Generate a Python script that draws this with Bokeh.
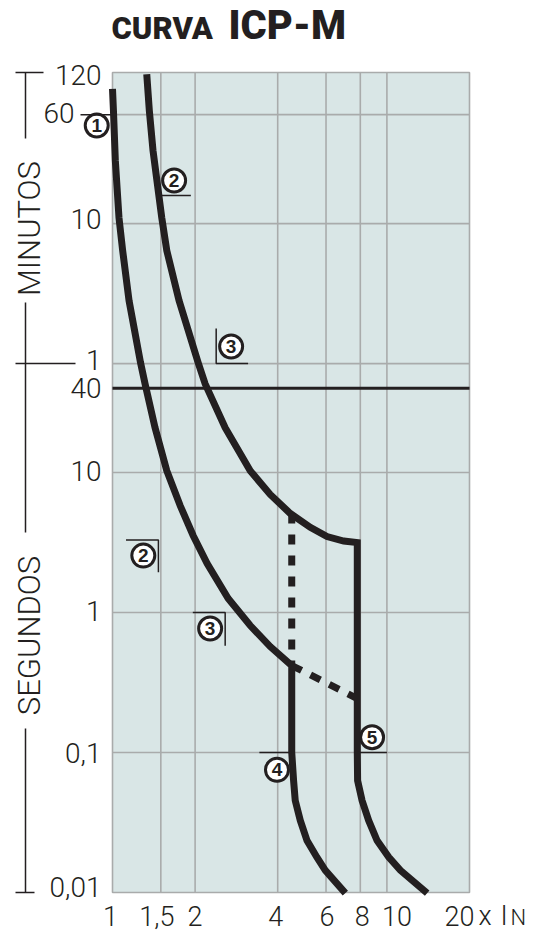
import math
from bokeh.plotting import figure
from bokeh.models import Range1d
from bokeh.core.properties import value
from bokeh.embed import file_html
from bokeh.resources import INLINE

# ---------------- data ----------------
# x: multiples of the rated current (x In), log axis
x_ticks = [1, 1.5, 2, 4, 6, 8, 10, 20]
x_tick_labels = ["1", "1,5", "2", "4", "6", "8", "10", "20"]
# y: tripping time in seconds, log axis (120, 60, 10, 1 are minutes)
y_ticks_s = [7200, 3600, 600, 60, 40, 10, 1, 0.1, 0.01]
y_tick_labels = ["120", "60", "10", "1", "40", "10", "1", "0,1", "0,01"]
y_grid_s = [3600, 600, 60, 10, 1, 0.1]
limit_s = 40

# curve (1): lower limit
curve1_x = [1.0, 1.008, 1.024, 1.056, 1.089, 1.149, 1.265, 1.314, 1.429, 1.577,
            1.764, 1.967, 2.213, 2.64, 3.176, 3.756, 4.5,
            4.5, 4.57, 4.634, 4.834, 5.115, 5.563, 5.964, 7.056]
curve1_t = [5500, 3850, 1694, 660, 385, 169, 61, 43, 20.9, 10.3,
            5.81, 3.55, 2.24, 1.259, 0.807, 0.571, 0.418,
            0.1, 0.063, 0.0454, 0.0327, 0.0235, 0.0178, 0.0144, 0.0099]
# curve (2): upper limit
curve2_x = [1.333, 1.362, 1.405, 1.512, 1.577, 1.748, 2.051, 2.176, 2.574, 3.176,
            3.756, 4.444, 5.257, 6.05, 6.96, 7.8,
            7.8, 7.82, 8.12, 8.58, 9.21, 10.15, 11.2, 14.02]
curve2_t = [7000, 3850, 1990, 660, 385, 169, 61, 43, 20.9, 10.3,
            6.97, 5.1, 4.06, 3.49, 3.24, 3.16,
            0.1, 0.063, 0.0454, 0.0327, 0.0235, 0.0179, 0.0144, 0.0099]
# dotted continuations
dash_v_x = [4.5, 4.5]
dash_v_t = [5.1, 0.418]
dash_d_x = [4.5, 7.8]
dash_d_t = [0.418, 0.243]

# numbered call-outs
marker_x = [0.876, 1.677, 2.706, 1.295, 2.269, 3.976, 8.83]
marker_t = [3010, 1218, 79.4, 2.55, 0.769, 0.0752, 0.1285]
marker_label = ["1", "2", "3", "2", "3", "4", "5"]
# reference brackets next to the call-outs
bracket_xs = [[1.49, 1.93], [2.387, 2.387, 3.12], [1.12, 1.47, 1.47],
              [1.962, 2.574, 2.574], [3.43, 4.5], [7.8, 10.0]]
bracket_ts = [[952, 952], [107, 60, 60], [3.30, 3.30, 1.94],
              [1.0, 1.0, 0.58], [0.1, 0.1], [0.1, 0.1]]

# ---------------- layout ----------------
INK = "#231f20"
GRID = "#a9abab"
BG = "#d9e6e6"
LIGHT = value("Roboto Light")
BOLD = value("Liberation Sans")
HEAVY = value("Roboto Black")

W, H = 538, 932
FL, FR, FT, FB = 112, 469, 72, 892        # pixels of the chart frame in the canvas
dec_x = (FR - FL) / (math.log10(x_ticks[-1]) - math.log10(x_ticks[0]))
dec_y = (FB - FT) / (math.log10(max(y_ticks_s)) - math.log10(min(y_ticks_s)))
x_lo = 10 ** (math.log10(x_ticks[0]) - FL / dec_x)
x_hi = 10 ** (math.log10(x_ticks[-1]) + (W - FR) / dec_x)
y_lo = 10 ** (math.log10(min(y_ticks_s)) - (H - FB) / dec_y)
y_hi = 10 ** (math.log10(max(y_ticks_s)) + FT / dec_y)


def X(px):
    return 10 ** (math.log10(x_lo) + px / dec_x)


def Y(py):
    return 10 ** (math.log10(y_hi) - py / dec_y)


p = figure(width=W, height=H, x_axis_type="log", y_axis_type="log",
           x_range=Range1d(x_lo, x_hi), y_range=Range1d(y_lo, y_hi),
           x_axis_location=None, y_axis_location=None, title=None,
           toolbar_location=None, output_backend="svg", min_border=0,
           outline_line_color=None, background_fill_color="white",
           border_fill_color="white")
p.grid.visible = False

x0, x1 = x_ticks[0], x_ticks[-1]
t0, t1 = min(y_ticks_s), max(y_ticks_s)

# background and grid
p.quad(left=[x0], right=[x1], bottom=[t0], top=[t1], fill_color=BG, line_color=None)
p.segment(x0=x_ticks[1:-1], y0=[t0] * 6, x1=x_ticks[1:-1], y1=[t1] * 6,
          line_color=GRID, line_width=1.6)
p.segment(x0=[x0] * len(y_grid_s), y0=y_grid_s, x1=[x1] * len(y_grid_s), y1=y_grid_s,
          line_color=GRID, line_width=1.6)
p.quad(left=[x0], right=[x1], bottom=[t0], top=[t1], fill_color=None,
       line_color=GRID, line_width=1.6)

# 40 s line
p.segment(x0=[x0], y0=[limit_s], x1=[x1], y1=[limit_s], line_color=INK, line_width=3)

# curves
for cx, ct in ((curve1_x, curve1_t), (curve2_x, curve2_t)):
    p.line(cx, ct, line_color=INK, line_width=7, line_join="miter", line_cap="butt")
p.line(dash_v_x, dash_v_t, line_color=INK, line_width=7, line_dash="10 11", line_cap="butt")
p.line(dash_d_x, dash_d_t, line_color=INK, line_width=7, line_dash="11 10", line_cap="butt")

# brackets and call-outs
p.multi_line(bracket_xs, bracket_ts, line_color=INK, line_width=1.5)
p.scatter(marker_x, marker_t, size=23, fill_color="white", line_color=INK, line_width=3)
p.text(marker_x, marker_t, text=marker_label, text_align="center", text_baseline="middle",
       text_font=BOLD, text_font_style="bold", text_font_size="19px", text_color=INK)

# left scale decoration
p.segment(x0=[X(25)] * 3, x1=[X(25)] * 3, y0=[t1, Y(302), Y(728)], y1=[Y(138), Y(532), t0],
          line_color=INK, line_width=1.5)
p.segment(x0=[X(15)] * 3, x1=[X(43), X(75), X(34)], y0=[t1, 60, t0], y1=[t1, 60, t0],
          line_color=INK, line_width=1.5)
p.segment(x0=[X(80)], x1=[x0], y0=[3600], y1=[3600], line_color=INK, line_width=1.5)
p.text([X(29)], [Y(228)], text=["MINUTOS"], angle=math.pi / 2, text_align="center",
       text_baseline="middle", text_font=LIGHT, text_font_size="31px", text_color=INK)
p.text([X(29)], [Y(635)], text=["SEGUNDOS"], angle=math.pi / 2, text_align="center",
       text_baseline="middle", text_font=LIGHT, text_font_size="31px", text_color=INK)

# y tick labels
y_lab_x = [X(101)] * len(y_ticks_s)
y_lab_x[1] = X(74)
y_off = [2, -2, -5, -4, 0, -2, -2, 0, -6]
p.text(y_lab_x, y_ticks_s, text=y_tick_labels, text_align="right", text_baseline="middle",
       y_offset=y_off, text_font=LIGHT, text_font_size="28px", text_color=INK)

# x tick labels
x_off = [-2, -4, 0, -2, 1, 2, 10, -10]
p.text(x_ticks, [Y(915)] * len(x_ticks), text=x_tick_labels, text_align="center",
       text_baseline="middle", x_offset=x_off, text_font=LIGHT, text_font_size="27px",
       text_color=INK)
p.text([X(478)], [Y(915)], text=["x"], text_align="left", text_baseline="middle",
       text_font=LIGHT, text_font_size="27px", text_color=INK)
p.text([X(500)], [Y(915)], text=["I"], text_align="left", text_baseline="middle",
       text_font=LIGHT, text_font_size="27px", text_color=INK)
p.text([X(510)], [Y(916.5)], text=["N"], text_align="left", text_baseline="middle",
       text_font=LIGHT, text_font_size="22px", text_color=INK)

# title
p.text([X(111)], [Y(28)], text=["CURVA"], text_align="left", text_baseline="middle",
       text_font=HEAVY, text_font_style="bold", text_font_size="31px", text_color=INK)
p.text([X(228)], [Y(25)], text=["ICP-M"], text_align="left", text_baseline="middle",
       text_font=HEAVY, text_font_style="bold", text_font_size="40px", text_color=INK)

open("out.html", "w").write(file_html(p, INLINE))
